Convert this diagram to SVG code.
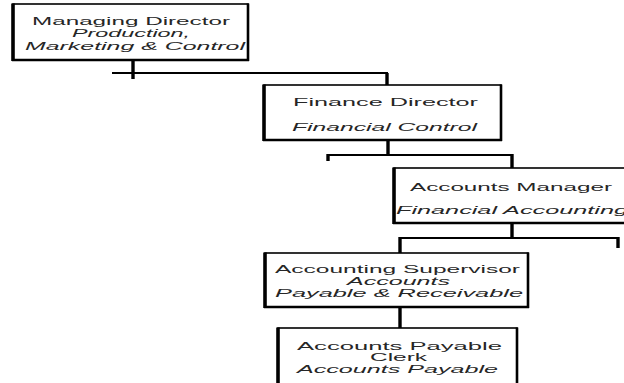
<svg xmlns="http://www.w3.org/2000/svg" width="624" height="383" viewBox="0 0 624 383">
  <style>
    .bg { fill: #ffffff; }
    .box { fill: #ffffff; stroke: #000; stroke-width: 1.6; }
    .edge-l { stroke: #000; stroke-width: 3.6; fill: none; }
    .edge-r { stroke: #000; stroke-width: 2.6; fill: none; }
    .edge-b { stroke: #000; stroke-width: 2.4; fill: none; }
    .v { stroke: #000; stroke-width: 3.4; fill: none; }
    .h { stroke: #000; stroke-width: 2; fill: none; }
    text { font-family: "Liberation Sans", Arial, sans-serif; font-size: 10.8px; fill: #262626; }
    .it { font-style: italic; }
  </style>

  <rect class="bg" x="0" y="0" width="624" height="383"/>

  <!-- reporting lines -->
  <g id="connectors">
    <!-- Managing Director down to the first bus -->
    <line class="v" x1="133" y1="60" x2="133" y2="79"/>
    <polyline class="h" points="112,73 387,73 387,85"/>
    <line class="v" x1="387" y1="73" x2="387" y2="86"/>
    <!-- Finance Director bus -->
    <line class="v" x1="388" y1="140" x2="388" y2="155"/>
    <polyline class="h" points="328,155 512,155"/>
    <line class="v" x1="328" y1="154" x2="328" y2="161"/>
    <line class="v" x1="512" y1="154" x2="512" y2="168"/>
    <!-- Accounts Manager bus -->
    <line class="v" x1="512" y1="223" x2="512" y2="238"/>
    <polyline class="h" points="400,238 618,238"/>
    <line class="v" x1="400" y1="237" x2="400" y2="253"/>
    <line class="v" x1="618" y1="237" x2="618" y2="248"/>
    <!-- Accounting Supervisor to Clerk -->
    <line class="v" x1="400" y1="307" x2="400" y2="328"/>
  </g>

  <g id="managing-director">
    <rect class="box" x="13" y="4" width="235" height="56"/>
    <line class="edge-l" x1="13" y1="3.5" x2="13" y2="61"/>
    <line class="edge-r" x1="248" y1="3.5" x2="248" y2="61"/>
    <line class="edge-b" x1="12" y1="60" x2="249" y2="60"/>
    <text x="32" y="24.5" textLength="198" lengthAdjust="spacingAndGlyphs">Managing Director</text>
    <text class="it" x="72" y="36.5" textLength="118" lengthAdjust="spacingAndGlyphs">Production,</text>
    <text class="it" x="25" y="49.5" textLength="220" lengthAdjust="spacingAndGlyphs">Marketing &amp; Control</text>
  </g>

  <g id="finance-director">
    <rect class="box" x="264" y="85" width="237" height="55"/>
    <line class="edge-l" x1="264" y1="84.5" x2="264" y2="141"/>
    <line class="edge-r" x1="501" y1="84.5" x2="501" y2="141"/>
    <line class="edge-b" x1="263" y1="140" x2="502" y2="140"/>
    <text x="293" y="105.5" textLength="185" lengthAdjust="spacingAndGlyphs">Finance Director</text>
    <text class="it" x="292" y="130.5" textLength="185" lengthAdjust="spacingAndGlyphs">Financial Control</text>
  </g>

  <g id="accounts-manager">
    <rect class="box" x="394" y="168" width="240" height="55"/>
    <line class="edge-l" x1="394" y1="167.5" x2="394" y2="224"/>
    <line class="edge-b" x1="393" y1="223" x2="624" y2="223"/>
    <text x="410" y="190.5" textLength="202" lengthAdjust="spacingAndGlyphs">Accounts Manager</text>
    <text class="it" x="396" y="213.5" textLength="232" lengthAdjust="spacingAndGlyphs">Financial Accounting</text>
  </g>

  <g id="accounting-supervisor">
    <rect class="box" x="265" y="253" width="263" height="54"/>
    <line class="edge-l" x1="265" y1="252.5" x2="265" y2="308"/>
    <line class="edge-r" x1="528" y1="252.5" x2="528" y2="308"/>
    <line class="edge-b" x1="264" y1="307" x2="529" y2="307"/>
    <text x="275" y="272.5" textLength="245" lengthAdjust="spacingAndGlyphs">Accounting Supervisor</text>
    <text class="it" x="347" y="284.5" textLength="103" lengthAdjust="spacingAndGlyphs">Accounts</text>
    <text class="it" x="275" y="296.5" textLength="248" lengthAdjust="spacingAndGlyphs">Payable &amp; Receivable</text>
  </g>

  <g id="accounts-payable-clerk">
    <rect class="box" x="278" y="328" width="239" height="70"/>
    <line class="edge-l" x1="278" y1="327.5" x2="278" y2="390"/>
    <line class="edge-r" x1="517" y1="327.5" x2="517" y2="390"/>
    <text x="297" y="349.5" textLength="205" lengthAdjust="spacingAndGlyphs">Accounts Payable</text>
    <text x="370" y="361" textLength="57" lengthAdjust="spacingAndGlyphs">Clerk</text>
    <text class="it" x="297" y="372.5" textLength="201" lengthAdjust="spacingAndGlyphs">Accounts Payable</text>
  </g>
</svg>
